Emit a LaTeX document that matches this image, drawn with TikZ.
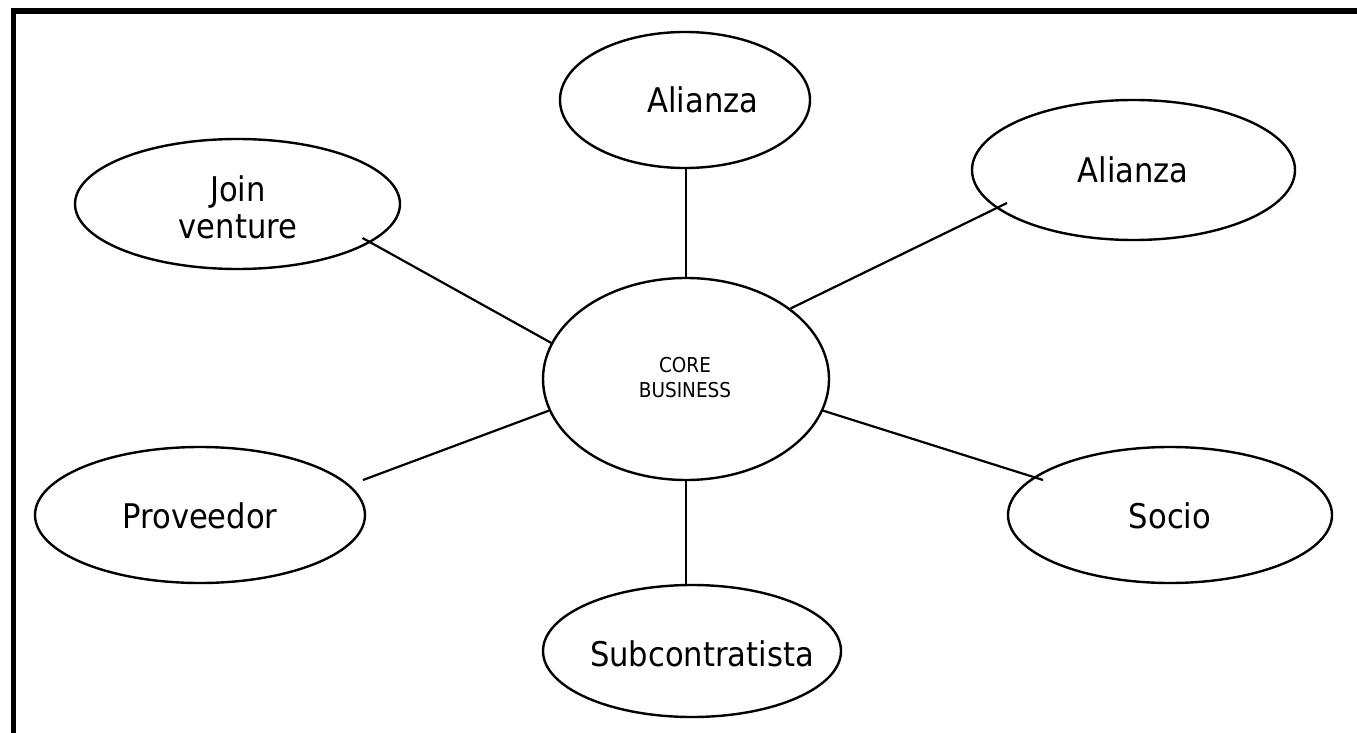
\documentclass[tikz,border=0pt]{standalone}
\usepackage{fontspec}
\setmainfont{DejaVu Sans}[FakeStretch=0.9]
\usetikzlibrary{shapes.geometric,calc}
\begin{document}
\begin{tikzpicture}[x=1pt,y=-1pt,
  bub/.style={draw,ellipse,line width=2.4pt,inner sep=0pt},
  lbl/.style={font=\fontsize{34}{37}\selectfont,align=center,inner sep=0pt},
  small/.style={font=\fontsize{20.5}{25}\selectfont,align=center,inner sep=0pt},
  link/.style={line width=2.2pt}]
\useasboundingbox (0,0) rectangle (1357,733);
\fill[white] (0,0) rectangle (1357,733);
% frame (top and left edges)
\fill[black] (11,8) rectangle (1357,14);
\fill[black] (11,8) rectangle (16,733);
% ellipses
\node[bub,minimum width=286,minimum height=202] (core) at (686,379) {};
\node[small] (coret) at (685,378) {CORE\\BUSINESS};
\node[bub,minimum width=250,minimum height=136] (al1) at (685,100) {};
\node[lbl] (al1t) at (703,100) {Alianza};
\node[bub,minimum width=323,minimum height=140] (al2) at (1133.5,170) {};
\node[lbl] (al2t) at (1133,170) {Alianza};
\node[bub,minimum width=325,minimum height=130] (jv) at (237.5,204) {};
\node[lbl] (jvt) at (238,207) {Join\\venture};
\node[bub,minimum width=330,minimum height=136] (prov) at (200,515) {};
\node[lbl] (provt) at (200,516) {Proveedor};
\node[bub,minimum width=324,minimum height=136] (soc) at (1170,515) {};
\node[lbl] (soct) at (1170,516) {Socio};
\node[bub,minimum width=298,minimum height=132] (sub) at (692,651) {};
\node[lbl] (subt) at (702,654) {Subcontratista};
% connector ends
\coordinate (al2e) at ($(al2.center)+(-126.5,33)$);
\coordinate (jve) at ($(jv.center)+(125,34)$);
\coordinate (prove) at ($(prov.center)+(163,-35)$);
\coordinate (soce) at ($(soc.center)+(-127,-35)$);
% connectors
\draw[link] (core.north) -- (core.north |- al1.south);
\draw[link] (core.34) -- (al2e);
\draw[link] (core.165) -- (jve);
\draw[link] (core.193) -- (prove);
\draw[link] (core.-13) -- (soce);
\draw[link] (core.south) -- (core.south |- sub.north);
\end{tikzpicture}
\end{document}
